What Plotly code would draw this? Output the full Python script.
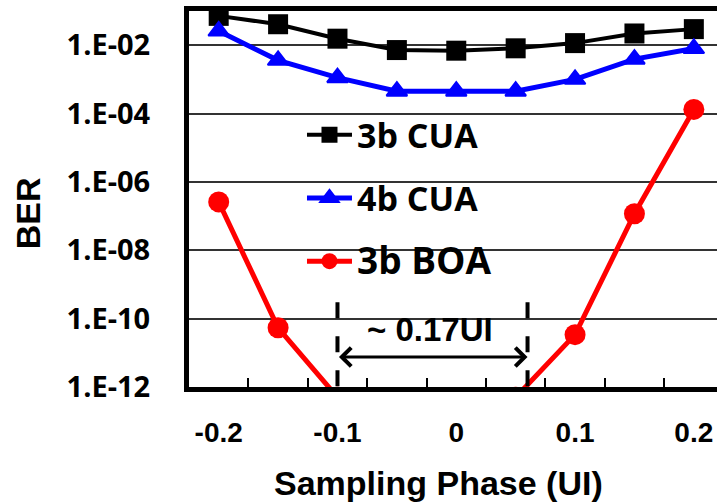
import plotly.graph_objects as go

# ---- data ----
phase = [-0.2, -0.15, -0.1, -0.05, 0.0, 0.05, 0.1, 0.15, 0.2]
ber_3b_cua = [7.2e-2, 4.1e-2, 1.55e-2, 7.2e-3, 6.9e-3, 8.1e-3, 1.15e-2, 2.2e-2, 2.95e-2]
ber_4b_cua = [2.6e-2, 3.6e-3, 1.12e-3, 4.5e-4, 4.5e-4, 4.5e-4, 1.0e-3, 3.9e-3, 8.0e-3]
ber_3b_boa = [2.6e-7, 5.4e-11, 5.0e-13, 1.0e-13, 5.0e-14, 5.0e-13, 3.4e-11, 1.17e-7, 1.32e-4]

x_tick_vals = [-0.2, -0.1, 0.0, 0.1, 0.2]
x_tick_text = ["-0.2", "-0.1", "0", "0.1", "0.2"]
x_minor_vals = [-0.175, -0.125, -0.075, -0.025, 0.025, 0.075, 0.125, 0.175]
y_tick_vals = [1e-12, 1e-10, 1e-8, 1e-6, 1e-4, 1e-2]
y_tick_text = ["1.E-12", "1.E-10", "1.E-08", "1.E-06", "1.E-04", "1.E-02"]

window_left = -0.1
window_right = 0.06
window_label = "~ 0.17UI"

ARIAL = "Liberation Sans, Arial, sans-serif"
CAL = "Open Sans, Noto Sans, sans-serif"

fig = go.Figure()
fig.add_trace(go.Scatter(
    x=phase, y=ber_3b_cua, name="3b CUA", mode="lines+markers",
    line=dict(color="#000000", width=4),
    marker=dict(symbol="square", size=20, color="#000000"),
    legendgroup="a",
))
fig.add_trace(go.Scatter(
    x=phase, y=ber_4b_cua, name="4b CUA", mode="lines+markers",
    line=dict(color="#0000FF", width=5),
    marker=dict(symbol="triangle-up", size=18, color="#0000FF",
                line=dict(color="#0000FF", width=2)),
    legendgroup="b",
))
fig.add_trace(go.Scatter(
    x=phase, y=ber_3b_boa, name="<span style='font-size:37px'>3b BOA</span>",
    mode="lines+markers",
    line=dict(color="#FF0000", width=5),
    marker=dict(symbol="circle", size=21, color="#FF0000"),
    legendgroup="c",
))

# dashed window markers
for xv in (window_left, window_right):
    fig.add_shape(type="line", xref="x", yref="paper", x0=xv, x1=xv,
                  y0=0.2254, y1=0.0, layer="above",
                  line=dict(color="#000000", width=4, dash="16px,18px"))

# double-headed arrow
fig.add_annotation(x=window_right, y=0.0799, xref="x", yref="paper",
                   ax=window_left, ay=0, axref="x", ayref="pixel",
                   showarrow=True, arrowside="end+start",
                   arrowhead=4, startarrowhead=4, arrowsize=1.2, startarrowsize=1.2,
                   arrowwidth=3, arrowcolor="#000000", text="")
fig.add_annotation(x=-0.0219, y=0.1536, xref="x", yref="paper",
                   text=window_label, showarrow=False,
                   font=dict(family=ARIAL, size=33, color="#000000", weight="bold"),
                   xanchor="center", yanchor="middle")

# axis titles
fig.add_annotation(x=0.4716, y=-0.3090, xref="paper", yref="paper",
                   text="Sampling Phase (UI)", showarrow=False,
                   font=dict(family=ARIAL, size=34, color="#000000", weight="bold"),
                   xanchor="center", yanchor="bottom", borderpad=0)
fig.add_annotation(x=-0.305, y=0.462, xref="paper", yref="paper",
                   text="BER", showarrow=False, textangle=-90,
                   font=dict(family=ARIAL, size=34, color="#000000", weight="bold"),
                   xanchor="center", yanchor="middle")

fig.update_xaxes(
    range=[-0.225, 0.2195],
    tickmode="array", tickvals=x_tick_vals, ticktext=x_tick_text,
    ticks="", ticklabelstandoff=16,
    tickfont=dict(family=ARIAL, size=28, color="#000000", weight="bold"),
    minor=dict(tickmode="array", tickvals=x_minor_vals, ticks="inside",
               ticklen=9, tickwidth=1.5, tickcolor="#000000", showgrid=False),
    showgrid=False, zeroline=False,
    showline=True, linecolor="#000000", linewidth=5, mirror=True,
)
fig.update_yaxes(
    type="log", range=[-12, -1],
    tickmode="array", tickvals=y_tick_vals, ticktext=y_tick_text,
    ticks="", ticklabelstandoff=28,
    tickfont=dict(family=CAL, size=29, color="#000000", weight="bold"),
    showgrid=True, gridcolor="#333333", gridwidth=1.5,
    zeroline=False,
    showline=True, linecolor="#000000", linewidth=5, mirror=False,
)

fig.update_layout(
    width=717, height=503,
    margin=dict(l=189, r=0, t=11, b=116),
    paper_bgcolor="#FFFFFF", plot_bgcolor="#FFFFFF",
    showlegend=True,
    legend=dict(x=0.214, y=0.747, xanchor="left", yanchor="top",
                bgcolor="rgba(0,0,0,0)", borderwidth=0,
                tracegroupgap=16, itemwidth=45,
                font=dict(family=CAL, size=34, color="#000000", weight="bold")),
)

fig.write_html("out.html")
